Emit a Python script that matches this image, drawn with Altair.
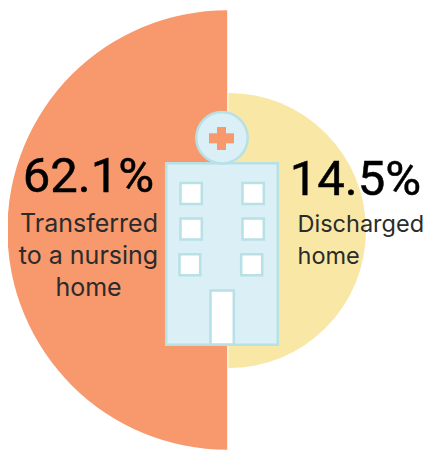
import altair as alt
import pandas as pd
import math

W, H = 416, 442
X = alt.Scale(domain=[8, 424], range=[0, W], zero=False, nice=False)
Y = alt.Scale(domain=[8, 450], range=[0, H], zero=False, nice=False)

# half discs
disc_names = ["Transferred to a nursing home", "Discharged home"]
disc_cx = [227.2, 228.4]
disc_cy = [230, 230.5]
disc_r = [219.8, 137.6]
disc_t0 = [math.pi, 0]
disc_t1 = [2 * math.pi, math.pi]
disc_col = ["#F7986D", "#F9E7A5"]

# building rectangles
rect_names = ["body", "w1", "w2", "w3", "w4", "w5", "w6", "door"]
rect_x0 = [166.2, 180.5, 242.5, 180.5, 242.5, 179.5, 241.2, 210.5]
rect_x1 = [277.8, 201.8, 263.8, 201.8, 263.8, 200.2, 262.2, 233.8]
rect_y0 = [163.2, 183, 183, 218.5, 218.5, 254.3, 254.3, 290.5]
rect_y1 = [344.8, 204, 204, 239.5, 239.5, 275.2, 275.2, 344.5]
rect_fill = ["#DAEFF6", "#FFFFFF", "#FFFFFF", "#FFFFFF", "#FFFFFF", "#FFFFFF", "#FFFFFF", "#FFFFFF"]

# cross on the roundel
cross_x0 = [209, 217]
cross_x1 = [234, 226]
cross_y0 = [133.3, 127]
cross_y1 = [143.3, 150]

# texts
big_txt = ["62.1%", "14.5%"]
big_x = [88.5, 355.5]
big_y = [192, 195]

lab_txt = ["Transferred", "to a nursing", "home", "Discharged", "home"]
lab_x = [89, 88.5, 88.5, 297.5, 297.5]
lab_y = [232, 264, 296, 232, 264]
lab_align = ["center", "center", "center", "left", "left"]
lab_size = [25, 23.5]

STROKE = "#B8E1E6"
ORANGE = "#F7986D"

discs = (
    alt.Chart(pd.DataFrame(dict(n=disc_names, cx=disc_cx, cy=disc_cy, r=disc_r, t0=disc_t0, t1=disc_t1, c=disc_col)))
    .mark_arc()
    .encode(
        x=alt.X("cx:Q", scale=X, axis=None),
        y=alt.Y("cy:Q", scale=Y, axis=None),
        theta=alt.Theta("t0:Q", scale=None),
        theta2="t1:Q",
        radius=alt.Radius("r:Q", scale=None),
        color=alt.Color("c:N", scale=None, legend=None),
    )
)

rects = (
    alt.Chart(pd.DataFrame(dict(n=rect_names, x0=rect_x0, x1=rect_x1, y0=rect_y0, y1=rect_y1, f=rect_fill)))
    .mark_rect(stroke=STROKE, strokeWidth=2.5)
    .encode(
        x=alt.X("x0:Q", scale=X, axis=None),
        x2="x1:Q",
        y=alt.Y("y0:Q", scale=Y, axis=None),
        y2="y1:Q",
        color=alt.Color("f:N", scale=None, legend=None),
    )
)

roundel = (
    alt.Chart(pd.DataFrame(dict(x=[222.0], y=[137.7])))
    .mark_point(shape="circle", filled=True, fill="#DAEFF6", stroke=STROKE, strokeWidth=2.5, size=2640, opacity=1)
    .encode(x=alt.X("x:Q", scale=X, axis=None), y=alt.Y("y:Q", scale=Y, axis=None))
)

cross = (
    alt.Chart(pd.DataFrame(dict(x0=cross_x0, x1=cross_x1, y0=cross_y0, y1=cross_y1)))
    .mark_rect(color=ORANGE)
    .encode(
        x=alt.X("x0:Q", scale=X, axis=None),
        x2="x1:Q",
        y=alt.Y("y0:Q", scale=Y, axis=None),
        y2="y1:Q",
    )
)

big = (
    alt.Chart(pd.DataFrame(dict(t=big_txt, x=big_x, y=big_y)))
    .mark_text(font="Roboto", fontSize=49, color="#000000", stroke="#000000", strokeWidth=0.5,
               align="center", baseline="alphabetic")
    .encode(x=alt.X("x:Q", scale=X, axis=None), y=alt.Y("y:Q", scale=Y, axis=None), text="t:N")
)

lab_df = pd.DataFrame(dict(t=lab_txt, x=lab_x, y=lab_y, a=lab_align))
labs = [
    alt.Chart(lab_df[lab_df.a == a])
    .mark_text(font="Inter", fontSize=s, color="#2B2B2B", align=a, baseline="alphabetic")
    .encode(x=alt.X("x:Q", scale=X, axis=None), y=alt.Y("y:Q", scale=Y, axis=None), text="t:N")
    for a, s in zip(["center", "left"], lab_size)
]

chart = (
    alt.layer(discs, rects, roundel, cross, big, *labs)
    .properties(
        width=W,
        height=H,
        padding=0,
        autosize=alt.AutoSizeParams(type="none"),
        background="#FFFFFF",
    )
    .configure_view(strokeWidth=0)
)
chart.save("out.html", embed_options={"renderer": "svg", "actions": False})
